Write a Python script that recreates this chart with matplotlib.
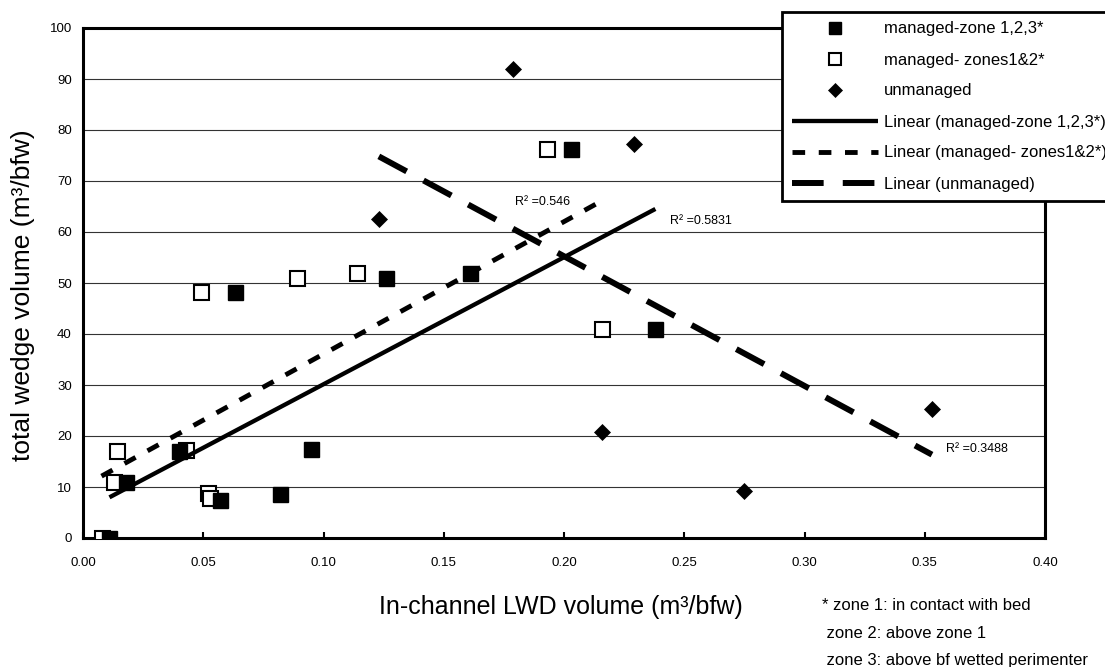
import numpy as np
import matplotlib
matplotlib.use('Agg')
import matplotlib.pyplot as plt
from matplotlib.lines import Line2D

plt.rcParams['font.family'] = ['Liberation Sans', 'DejaVu Sans']

# --- data ---
zone123_x = [0.011, 0.018, 0.040, 0.057, 0.063, 0.082, 0.095, 0.126, 0.161, 0.203, 0.238]
zone123_y = [0.0, 11.0, 17.0, 7.4, 48.3, 8.7, 17.5, 51.0, 52.0, 76.2, 41.0]

zone12_x = [0.0077, 0.013, 0.014, 0.0427, 0.049, 0.052, 0.053, 0.089, 0.114, 0.193, 0.216]
zone12_y = [0.0, 11.0, 17.0, 17.3, 48.2, 8.8, 7.8, 51.0, 52.0, 76.2, 41.0]

unman_x = [0.123, 0.179, 0.229, 0.216, 0.275, 0.353]
unman_y = [62.5, 92.0, 77.2, 20.8, 9.2, 25.3]

labels = ["managed-zone 1,2,3*", "managed- zones1&2*", "unmanaged",
          "Linear (managed-zone 1,2,3*)", "Linear (managed- zones1&2*)", "Linear (unmanaged)"]
r2_texts = ["R\u00b2 =0.5831", "R\u00b2 =0.546", "R\u00b2 =0.3488"]
x_ticks = [0.00, 0.05, 0.10, 0.15, 0.20, 0.25, 0.30, 0.35, 0.40]
y_ticks = [0, 10, 20, 30, 40, 50, 60, 70, 80, 90, 100]
footnote = ["* zone 1: in contact with bed", " zone 2: above zone 1", " zone 3: above bf wetted perimenter"]

W, H = 1105, 667
fig = plt.figure(figsize=(W / 100, H / 100), dpi=100)
L, R, T, B = 83, 1045, 28, 538
ax = fig.add_axes([L / W, 1 - B / H, (R - L) / W, (B - T) / H])

ax.set_xlim(0, 0.40)
ax.set_ylim(0, 100)
ax.set_xticks(x_ticks)
ax.set_xticklabels([f"{v:.2f}" for v in x_ticks])
ax.set_yticks(y_ticks)
ax.set_yticklabels([str(v) for v in y_ticks])
ax.tick_params(axis='x', direction='in', length=4.5, width=1.5, labelsize=9.5, pad=14)
ax.tick_params(axis='y', length=0, labelsize=9.5, pad=8)
for s in ax.spines.values():
    s.set_linewidth(2.2)
    s.set_color('black')
ax.yaxis.grid(True, color='#333333', linewidth=0.8)
ax.set_axisbelow(True)

sq_ms = 10.8
h_open, = ax.plot(zone12_x, zone12_y, ls='none', marker='s', ms=sq_ms, mfc='white', mec='black', mew=1.5, zorder=3)
h_fill, = ax.plot(zone123_x, zone123_y, ls='none', marker='s', ms=sq_ms, mfc='black', mec='black', mew=1, zorder=4)
h_dia, = ax.plot(unman_x, unman_y, ls='none', marker='D', ms=8.6, mfc='black', mec='black', mew=0.5, zorder=4)

def trend(x, y):
    x = np.asarray(x); y = np.asarray(y)
    k, b = np.polyfit(x, y, 1)
    xs = np.array([x.min(), x.max()])
    return xs, k * xs + b

xs, ys = trend(zone123_x, zone123_y)
l1, = ax.plot(xs, ys, color='black', lw=3.1, solid_capstyle='butt', zorder=5)
xs, ys = trend(zone12_x, zone12_y)
l2, = ax.plot(xs, ys, color='black', lw=3.5, ls=(0, (2.6, 2.8)), dash_capstyle='butt', zorder=5)
xs, ys = trend(unman_x, unman_y)
l3, = ax.plot(xs, ys, color='black', lw=4.3, ls=(0, (5.3, 3.2)), dash_capstyle='butt', zorder=5)

ax.text(0.2441, 62.2, r2_texts[0], fontsize=9, va='center', ha='left', zorder=6)
ax.text(0.1798, 65.9, r2_texts[1], fontsize=9, va='center', ha='left', zorder=6)
ax.text(0.3590, 17.5, r2_texts[2], fontsize=9, va='center', ha='left', zorder=6)

ax.set_xlabel("In-channel LWD volume (m\u00b3/bfw)", fontsize=18)
ax.xaxis.label.set_va('center')
ax.xaxis.set_label_coords((561 - L) / (R - L), (B - 607) / (B - T))
ax.set_ylabel("total wedge volume (m\u00b3/bfw)", fontsize=19)
ax.yaxis.label.set_va('center')
ax.yaxis.set_label_coords((23 - L) / (R - L), (B - 295) / (B - T))

leg = fig.legend([h_fill, h_open, h_dia, l1, l2, l3], labels,
                 loc='upper left', bbox_to_anchor=(782 / W, 1 - 12 / H),
                 bbox_transform=fig.transFigure, borderaxespad=0,
                 fontsize=12, handlelength=5.2, handletextpad=0.35,
                 labelspacing=0.96, borderpad=0.57, markerscale=0.8,
                 frameon=True, fancybox=False, framealpha=1, edgecolor='black')
leg.get_frame().set_linewidth(2)
leg.set_zorder(10)

fig.text(822 / W, 1 - 606 / H, footnote[0], fontsize=12, va='center', ha='left')
fig.text(822 / W, 1 - 633 / H, footnote[1], fontsize=12, va='center', ha='left')
fig.text(822 / W, 1 - 660 / H, footnote[2], fontsize=12, va='center', ha='left')

fig.savefig('out.png', dpi=100)
